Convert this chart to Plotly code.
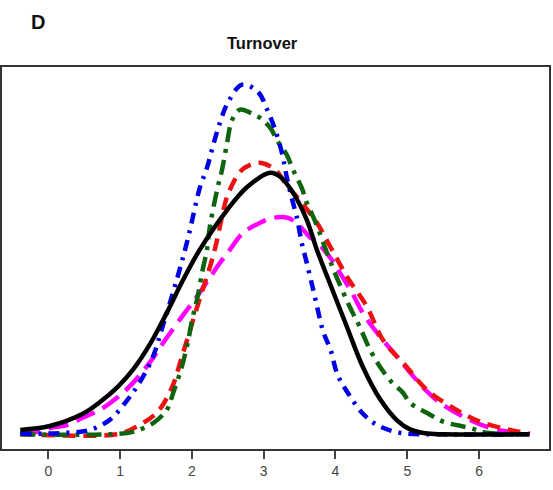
import plotly.graph_objects as go

# Density curves (x = turnover, y = density)
black_x = [-0.39, 0.02, 0.48, 0.72, 0.96, 1.18, 1.42, 1.65, 1.88, 2.11, 2.49, 2.77, 3.09, 3.23, 3.41, 3.60, 3.74, 3.92, 4.16, 4.38, 4.62, 4.86, 5.04, 5.25, 5.5, 6.7]
black_y = [0.009, 0.017, 0.042, 0.066, 0.096, 0.132, 0.185, 0.248, 0.316, 0.377, 0.458, 0.505, 0.534, 0.526, 0.493, 0.438, 0.377, 0.309, 0.219, 0.138, 0.072, 0.028, 0.010, 0.002, 0.0, 0.0]

blue_x = [-0.39, 0.26, 0.58, 0.86, 1.10, 1.25, 1.44, 1.60, 1.79, 1.94, 2.11, 2.21, 2.29, 2.39, 2.50, 2.70, 2.92, 3.06, 3.16, 3.26, 3.32, 3.39, 3.46, 3.53, 3.60, 3.69, 3.76, 3.83, 3.93, 4.03, 4.17, 4.37, 4.58, 4.90, 5.46, 6.7]
blue_y = [0.001, 0.003, 0.009, 0.030, 0.070, 0.101, 0.152, 0.224, 0.316, 0.397, 0.503, 0.544, 0.587, 0.636, 0.677, 0.714, 0.699, 0.659, 0.622, 0.571, 0.526, 0.483, 0.444, 0.391, 0.350, 0.295, 0.250, 0.209, 0.173, 0.121, 0.085, 0.044, 0.019, 0.003, 0.0, 0.0]

green_x = [-0.39, 0.86, 1.18, 1.46, 1.65, 1.74, 1.86, 1.95, 2.01, 2.08, 2.15, 2.21, 2.25, 2.36, 2.42, 2.49, 2.56, 2.67, 2.81, 2.95, 3.09, 3.20, 3.32, 3.41, 3.53, 3.60, 3.69, 3.78, 3.85, 3.92, 4.03, 4.20, 4.34, 4.48, 4.62, 4.78, 4.94, 5.04, 5.27, 5.50, 5.87, 6.11, 6.57]
green_y = [0.0, 0.0, 0.005, 0.023, 0.050, 0.085, 0.138, 0.193, 0.238, 0.281, 0.336, 0.377, 0.424, 0.505, 0.540, 0.595, 0.642, 0.663, 0.657, 0.646, 0.626, 0.597, 0.571, 0.540, 0.503, 0.473, 0.444, 0.411, 0.383, 0.356, 0.316, 0.260, 0.219, 0.173, 0.138, 0.107, 0.085, 0.064, 0.044, 0.026, 0.013, 0.003, 0.0]

red_x = [-0.39, 0.96, 1.14, 1.51, 1.72, 1.86, 2.01, 2.14, 2.28, 2.36, 2.43, 2.50, 2.67, 2.81, 2.97, 3.16, 3.32, 3.46, 3.74, 3.95, 4.16, 4.44, 4.66, 4.99, 5.27, 5.64, 6.01, 6.43, 6.71]
red_y = [0.0, 0.0, 0.009, 0.044, 0.095, 0.158, 0.230, 0.291, 0.356, 0.403, 0.452, 0.489, 0.536, 0.550, 0.554, 0.540, 0.509, 0.485, 0.432, 0.377, 0.322, 0.260, 0.193, 0.138, 0.091, 0.054, 0.026, 0.009, 0.001]

magenta_x = [-0.39, -0.21, 0.02, 0.26, 0.48, 0.72, 0.96, 1.18, 1.42, 1.63, 1.90, 2.07, 2.25, 2.39, 2.53, 2.71, 2.95, 3.13, 3.34, 3.51, 3.64, 3.71, 3.92, 4.06, 4.23, 4.38, 4.58, 4.86, 5.04, 5.25, 5.46, 5.78, 6.11, 6.43, 6.64]
magenta_y = [0.001, 0.003, 0.013, 0.019, 0.034, 0.050, 0.075, 0.105, 0.148, 0.193, 0.248, 0.281, 0.320, 0.350, 0.377, 0.411, 0.432, 0.442, 0.442, 0.424, 0.403, 0.397, 0.362, 0.330, 0.289, 0.248, 0.207, 0.158, 0.126, 0.091, 0.064, 0.036, 0.015, 0.005, 0.003]

tick_vals = [0, 1, 2, 3, 4, 5, 6]
tick_text = ["0", "1", "2", "3", "4", "5", "6"]

series = [
    (magenta_x, magenta_y, "#FF00FF", "20px,9px"),
    (red_x, red_y, "#EE1111", "13px,8px"),
    (green_x, green_y, "#0F650F", "15px,7px,4px,7px"),
    (blue_x, blue_y, "#0000E6", "11px,7px,3px,7px"),
    (black_x, black_y, "#000000", "solid"),
]

fig = go.Figure()
for xs, ys, col, dash in series:
    fig.add_trace(go.Scatter(
        x=xs, y=ys, mode="lines",
        line=dict(color=col, width=4.5, dash=dash, shape="spline", smoothing=1.0),
        showlegend=False, hoverinfo="skip",
    ))

fig.update_layout(
    width=553, height=490,
    margin=dict(l=2, r=4, t=67, b=41),
    paper_bgcolor="white", plot_bgcolor="white",
    font=dict(family="Arial, Liberation Sans, sans-serif", color="#333333"),
    annotations=[
        dict(text="<b>Turnover</b>", x=262, y=43, xref="paper", yref="paper",
             showarrow=False, font=dict(size=16.5, color="#111111")),
        dict(text="<b>D</b>", x=38, y=22, xref="paper", yref="paper",
             showarrow=False, font=dict(size=20, color="#111111")),
    ],
)
# convert pixel positions of annotations into paper coords
W, H = 553, 490
pl, pr, pt, pb = 2, 4, 67, 41
pw, ph = W - pl - pr, H - pt - pb
for a in fig.layout.annotations:
    px, py = a.x, a.y
    a.x = (px - pl) / pw
    a.y = (H - pb - py) / ph
    a.xanchor = "center"
    a.yanchor = "middle"

fig.update_xaxes(
    range=[-0.645, 6.974], tickvals=tick_vals, ticktext=tick_text,
    ticks="outside", ticklen=8, tickwidth=1.5, tickcolor="#444444",
    showline=True, linecolor="#333333", linewidth=2, mirror=True,
    showgrid=False, zeroline=False, tickfont=dict(size=14, color="#444444"),
)
fig.update_yaxes(
    range=[-0.03, 0.75], showticklabels=False, ticks="",
    showline=True, linecolor="#333333", linewidth=2, mirror=True,
    showgrid=False, zeroline=False,
)

fig.write_html("out.html")
